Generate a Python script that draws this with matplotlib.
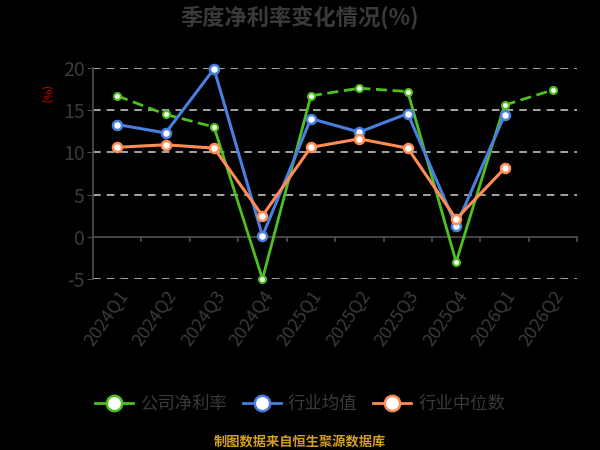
import matplotlib
matplotlib.use("Agg")
import matplotlib.pyplot as plt
from matplotlib.lines import Line2D

plt.rcParams['font.family'] = ['Noto Sans CJK SC', 'DejaVu Sans']

categories = ['2024Q1', '2024Q2', '2024Q3', '2024Q4', '2025Q1', '2025Q2',
              '2025Q3', '2025Q4', '2026Q1', '2026Q2']
company = [16.7, 14.5, 13.0, -5.0, 16.7, 17.6, 17.2, -3.0, 15.6, 17.4]
# segment styles between consecutive company points (True = dashed)
company_dashed = [True, True, False, False, True, True, False, False, True]
industry_avg = [13.3, 12.3, 19.9, 0.1, 14.0, 12.4, 14.6, 1.3, 14.4]
industry_median = [10.6, 10.9, 10.5, 2.5, 10.6, 11.6, 10.5, 2.1, 8.1]
y_ticks = [-5, 0, 5, 10, 15, 20]

GREEN = '#4fc11f'
BLUE = '#4a7fe0'
ORANGE = '#ff8c55'
TXT = '#3a3a3a'
AXC = '#4a4a4a'

fig = plt.figure(figsize=(6, 4.5), dpi=100, facecolor='black')
ax = fig.add_axes([0.155, 0.38, 0.807, 0.469])
ax.set_facecolor('black')

x = list(range(len(categories)))

for yv in y_ticks:
    if yv != 0:
        ax.axhline(yv, color='#d0d0d0', lw=1.1, ls=(0, (5, 4)), zorder=1)
ax.axhline(0, color=AXC, lw=1.3, zorder=2)

# company line with per-segment styles
for i, dashed in enumerate(company_dashed):
    ax.plot(x[i:i + 2], company[i:i + 2], color=GREEN, lw=2.0,
            ls=(0, (4, 2)) if dashed else '-', zorder=3, solid_capstyle='round',
            clip_on=False)
ax.plot(x, company, ls='none', marker='o', ms=5, mfc='white', mec=GREEN, mew=1.5,
        zorder=6, clip_on=False)

ax.plot(x[:len(industry_avg)], industry_avg, color=BLUE, lw=2.2, marker='o', ms=6.5,
        mfc='white', mec=BLUE, mew=1.8, zorder=4, clip_on=False)
ax.plot(x[:len(industry_median)], industry_median, color=ORANGE, lw=2.2, marker='o', ms=6.5,
        mfc='white', mec=ORANGE, mew=1.8, zorder=5, clip_on=False)

ax.set_xlim(-0.5, len(categories) - 0.5)
ax.set_ylim(-5, 20)
ax.set_yticks(y_ticks)
ax.set_yticklabels([str(v) for v in y_ticks], fontsize=14, color=TXT)
ax.tick_params(axis='y', length=4, color=AXC, pad=2)

ax.set_xticks(x)
ax.set_xticklabels(categories, rotation=55, ha='right', rotation_mode='anchor',
                   fontsize=13, color=TXT)
ax.tick_params(axis='x', length=0, pad=6)
# boundary ticks on zero line
for b in [i + 0.5 for i in range(len(categories) - 1)] + [len(categories) - 0.5]:
    ax.plot([b, b], [0, -0.55], color=AXC, lw=1.3, zorder=2, clip_on=False)

for s in ['top', 'right', 'bottom']:
    ax.spines[s].set_visible(False)
ax.spines['left'].set_color(AXC)
ax.spines['left'].set_linewidth(1.3)

fig.text(0.5, 0.962, '季度净利率变化情况(%)', ha='center', va='center', fontsize=16,
         fontweight='bold', color=TXT)
fig.text(0.075, 0.79, '(%)', ha='center', va='center', fontsize=8, color='#e00000', rotation=-90)

handles = [
    Line2D([0], [0], color=GREEN, lw=2, marker='o', ms=11, mfc='white', mec=GREEN, mew=1.8),
    Line2D([0], [0], color=BLUE, lw=2, marker='o', ms=11, mfc='white', mec=BLUE, mew=1.8),
    Line2D([0], [0], color=ORANGE, lw=2, marker='o', ms=11, mfc='white', mec=ORANGE, mew=1.8),
]
leg = fig.legend(handles, ['公司净利率', '行业均值', '行业中位数'], loc='center',
                 bbox_to_anchor=(0.5, 0.103), ncol=3, frameon=False, fontsize=12.5,
                 handlelength=2.2, columnspacing=0.9, handletextpad=0.4)
for t in leg.get_texts():
    t.set_color(TXT)

fig.text(0.5, 0.018, '制图数据来自恒生聚源数据库', ha='center', va='center', fontsize=9.5,
         color='#d4a017', fontweight='bold')

fig.savefig('out.png', dpi=100, facecolor='black')
